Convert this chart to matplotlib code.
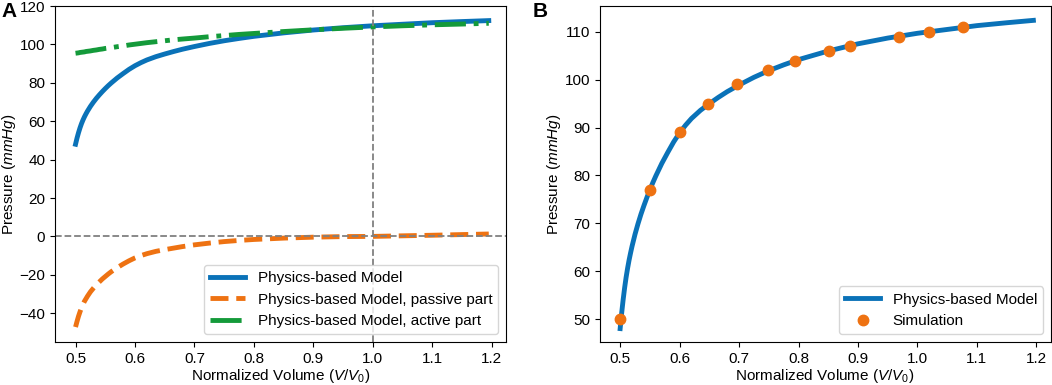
import matplotlib
matplotlib.use("Agg")
import matplotlib.pyplot as plt

plt.rcParams["font.family"] = ["Liberation Sans", "DejaVu Sans"]
plt.rcParams["font.size"] = 11
plt.rcParams["mathtext.fontset"] = "custom"
plt.rcParams["mathtext.rm"] = "Liberation Sans"
plt.rcParams["mathtext.it"] = "Liberation Sans:italic"

BLUE = "#0a72b8"
ORANGE = "#ee7212"
GREEN = "#149a3a"

# normalized volume grid
volume = [0.500, 0.5025, 0.505, 0.5075, 0.510, 0.5125, 0.515, 0.5175, 0.520, 0.525,
          0.530, 0.535, 0.540, 0.545, 0.550, 0.555, 0.560, 0.570, 0.580, 0.590,
          0.600, 0.610, 0.620, 0.635, 0.650, 0.665, 0.680, 0.700, 0.725, 0.750,
          0.775, 0.800, 0.850, 0.900, 0.950, 1.000, 1.050, 1.100, 1.150, 1.195]

# total pressure of the physics-based model
total = [48.0, 51.2, 54.0, 56.5, 58.7, 60.6, 62.3, 63.8, 65.2, 67.7,
         69.9, 71.9, 73.7, 75.4, 77.0, 78.5, 79.9, 82.5, 84.8, 87.0,
         88.9, 90.5, 91.9, 93.6, 95.0, 96.3, 97.5, 98.9, 100.5, 101.9,
         103.1, 104.2, 106.0, 107.5, 108.7, 109.7, 110.5, 111.3, 111.9, 112.4]

# passive part
passive = [-47.2, -44.3, -41.6, -39.3, -37.2, -35.4, -33.8, -32.5, -31.2, -28.9,
           -27.0, -25.2, -23.7, -22.2, -20.9, -19.6, -18.4, -16.3, -14.4, -12.7,
           -11.2, -10.0, -9.0, -7.8, -6.9, -6.1, -5.3, -4.4, -3.5, -2.7,
           -2.1, -1.6, -0.9, -0.4, -0.1, 0.0, 0.3, 0.6, 0.95, 1.25]

# active part
active = [95.4, 95.5, 95.6, 95.8, 95.9, 96.0, 96.1, 96.3, 96.4, 96.6,
          96.9, 97.1, 97.4, 97.6, 97.9, 98.1, 98.3, 98.8, 99.2, 99.7,
          100.1, 100.5, 100.9, 101.4, 101.9, 102.4, 102.8, 103.3, 104.0, 104.6,
          105.2, 105.7, 106.7, 107.6, 108.4, 109.1, 109.7, 110.2, 110.6, 111.0]

# simulation results
sim_volume = [0.500, 0.550, 0.601, 0.648, 0.696, 0.748, 0.794, 0.852, 0.886, 0.969, 1.019, 1.076]
sim_pressure = [50, 77, 89, 95, 99, 102, 104, 106, 107, 109, 110, 111]

fig = plt.figure(figsize=(10.52, 3.85), dpi=100)
ax_a = fig.add_axes([0.0523, 0.1117, 0.4287, 0.8727])
ax_b = fig.add_axes([0.5700, 0.1117, 0.4287, 0.8727])

# panel A
ax_a.plot(volume, total, color=BLUE, lw=3.5, label="Physics-based Model")
ax_a.plot(volume, passive, color=ORANGE, lw=3.5, ls="--", label="Physics-based Model, passive part")
ax_a.plot(volume, active, color=GREEN, lw=3.5, ls="-.", label="Physics-based Model, active part")
ax_a.axhline(0, color="gray", ls="--", lw=1.3)
ax_a.axvline(1.0, color="gray", ls="--", lw=1.3)
ax_a.set_yticks([-40, -20, 0, 20, 40, 60, 80, 100, 120])
ax_a.set_xticks([0.5, 0.6, 0.7, 0.8, 0.9, 1.0, 1.1, 1.2])
ax_a.set_ylim(-55, 120)
ax_a.set_xlim(0.4655, 1.224)
ax_a.set_xlabel("Normalized Volume ($V/V_0$)", labelpad=1)
ax_a.set_ylabel("Pressure ($mmHg$)", labelpad=1)
ax_a.legend(loc="lower right", handlelength=2.3)

# panel B
ax_b.plot(volume, total, color=BLUE, lw=3.5, label="Physics-based Model")
ax_b.plot(sim_volume, sim_pressure, "o", color=ORANGE, ms=7.5, label="Simulation")
ax_b.set_yticks([50, 60, 70, 80, 90, 100, 110])
ax_b.set_xticks([0.5, 0.6, 0.7, 0.8, 0.9, 1.0, 1.1, 1.2])
ax_b.set_ylim(45.2, 115.4)
ax_b.set_xlim(0.4655, 1.224)
ax_b.set_xlabel("Normalized Volume ($V/V_0$)", labelpad=1)
ax_b.set_ylabel("Pressure ($mmHg$)", labelpad=1)
ax_b.legend(loc="lower right", handlelength=2.3)

fig.text(0.001, 0.995, "A", fontsize=15, fontweight="bold", va="top", ha="left")
fig.text(0.506, 0.995, "B", fontsize=15, fontweight="bold", va="top", ha="left")

fig.savefig("out.png", dpi=100)
